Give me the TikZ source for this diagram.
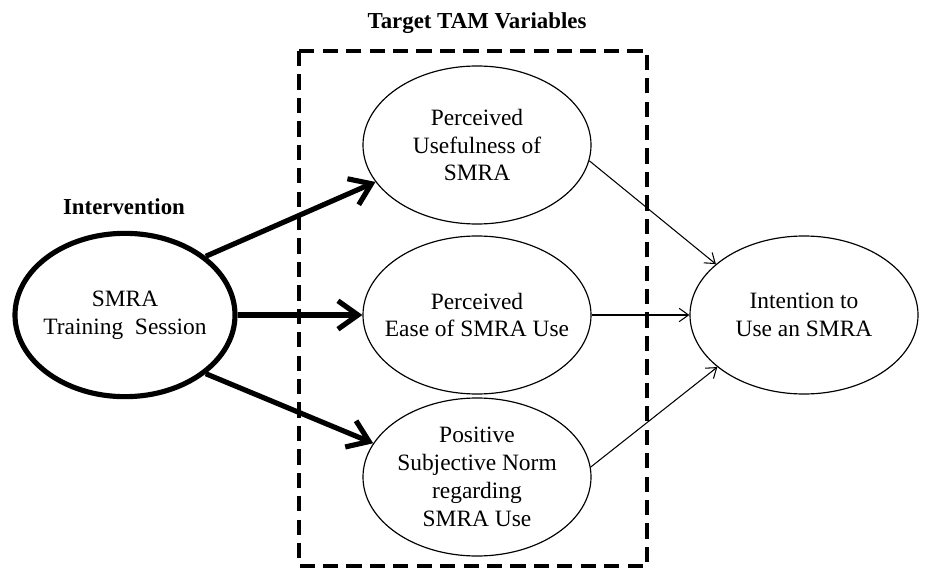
\documentclass[tikz,border=0pt]{standalone}
\usepackage{fontspec}
\setmainfont{Liberation Serif}
\usetikzlibrary{arrows.meta, shapes.geometric}

\begin{document}
\begin{tikzpicture}[x=0.03cm, y=-0.03cm,
    font=\fontsize{20pt}{23.8pt}\selectfont,
    head/.style={font=\fontsize{19.5pt}{23.8pt}\selectfont\bfseries},
    var/.style={ellipse, draw, line width=1pt, inner sep=-0.5cm, align=center,
      minimum width=6.84cm, minimum height=4.74cm},
    big/.style={line width=4.4pt, -{Straight Barb[length=6mm, width=8.5mm]}},
    thin/.style={line width=0.9pt, -{Straight Barb[length=2.8mm, width=4mm]}}]
  \useasboundingbox (0,0) rectangle (925,568);
  % box round the TAM variables
  \draw[line width=2.6pt, dash pattern=on 13pt off 7pt] (299,51) rectangle (647,566);
  \node[head] (tam) at (477,23) {Target TAM Variables};
  \node[head] (iv) at (124,207) {Intervention};
  \node[var, line width=4.4pt, minimum width=6.6cm, minimum height=4.9cm] (train) at (125,315)
    {SMRA\\Training\ \ Session};
  \foreach \n/\y/\txt in {useful/145/{Perceived\\Usefulness of\\SMRA},
      ease/315/{Perceived\\Ease of SMRA Use},
      norm/477/{Positive\\Subjective Norm\\regarding\\SMRA Use}} {
    \node[var] (\n) at (477,\y) {\txt};
  }
  \node[var] (intent) at (804,315) {Intention to\\Use an SMRA};
  \draw[big] (train.36) -- (useful.200);
  \draw[big] (train) -- (ease);
  \draw[big] (train.-36) -- (norm.162);
  \draw[thin] (useful.-8) -- (intent.150);
  \draw[thin] (ease) -- (intent);
  \draw[thin] (norm.5) -- (intent.211);
\end{tikzpicture}
\end{document}
